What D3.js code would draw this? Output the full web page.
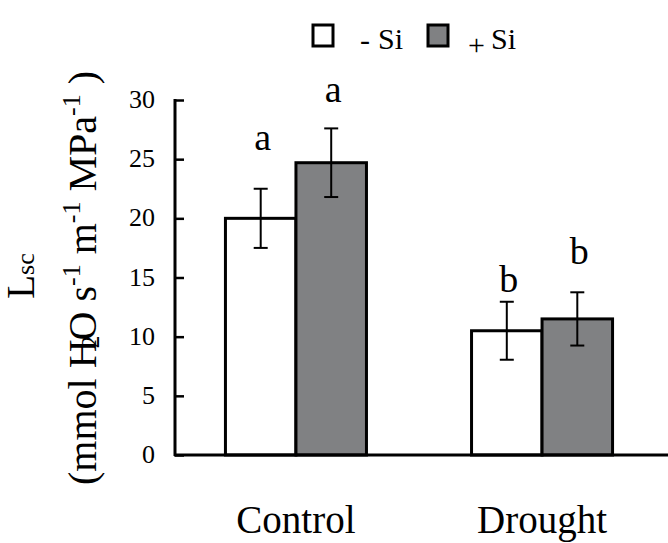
<!DOCTYPE html>
<html><head><meta charset="utf-8">
<script src="https://cdn.jsdelivr.net/npm/d3@7"></script>
</head><body style="margin:0">
<svg id="c" width="668" height="543"></svg>
<script>
const categories = ["Control", "Drought"];
const seriesNames = ["- Si", "+ Si"];
const minusSi = [20.0, 10.5];
const plusSi = [24.7, 11.5];
const minusSiErr = [2.5, 2.45];
const plusSiErr = [2.9, 2.25];
const minusSiLetters = ["a", "b"];
const plusSiLetters = ["a", "b"];
const minusSiLetterAt = [25.8, 13.8];
const plusSiLetterAt = [29.8, 16.1];
const yTicks = [0, 5, 10, 15, 20, 25, 30];

const FONT = "Liberation Serif";
const svg = d3.select("#c");
const y = d3.scaleLinear().domain([0, 30]).range([455, 100]);
const x = d3.scaleBand().domain(categories).range([175, 663]).paddingInner(0.427).paddingOuter(0.205);
const xs = d3.scaleBand().domain(seriesNames).range([0, x.bandwidth()]);
const fills = {"- Si": "#ffffff", "+ Si": "#808183"};

const data = [];
categories.forEach((c, i) => {
  data.push({c, s: "- Si", v: minusSi[i], e: minusSiErr[i], l: minusSiLetters[i], ly: minusSiLetterAt[i]});
  data.push({c, s: "+ Si", v: plusSi[i], e: plusSiErr[i], l: plusSiLetters[i], ly: plusSiLetterAt[i]});
});
const cx = d => x(d.c) + xs(d.s) + xs.bandwidth()/2;

const g = svg.append("g");
g.selectAll("rect.bar").data(data).join("rect")
  .attr("x", d => x(d.c) + xs(d.s))
  .attr("y", d => y(d.v))
  .attr("width", xs.bandwidth())
  .attr("height", d => y(0) - y(d.v))
  .attr("fill", d => fills[d.s])
  .attr("stroke", "#000").attr("stroke-width", 3);

const eb = g.selectAll("g.eb").data(data).join("g").attr("stroke", "#000").attr("stroke-width", 2);
eb.append("line")
  .attr("x1", cx).attr("x2", cx)
  .attr("y1", d => y(d.v + d.e)).attr("y2", d => y(d.v - d.e));
[1, -1].forEach(sgn => {
  eb.append("line")
    .attr("x1", d => cx(d) - 7).attr("x2", d => cx(d) + 7)
    .attr("y1", d => y(d.v + sgn*d.e)).attr("y2", d => y(d.v + sgn*d.e));
});

g.selectAll("text.let").data(data).join("text")
  .attr("x", d => cx(d) + 2)
  .attr("y", d => y(d.ly))
  .attr("text-anchor", "middle").attr("font-size", 38).attr("font-family", FONT)
  .text(d => d.l);

// Y axis
const ya = svg.append("g").attr("transform", "translate(175,0)")
  .call(d3.axisRight(y).tickValues(yTicks).tickSize(9).tickFormat(""));
ya.select(".domain").remove();
ya.selectAll(".tick line").attr("stroke", "#000").attr("stroke-width", 2.5);
svg.append("line").attr("x1", 175).attr("x2", 175).attr("y1", y(30) - 1).attr("y2", y(0) + 1)
  .attr("stroke", "#000").attr("stroke-width", 3);
svg.selectAll("text.yt").data(yTicks).join("text")
  .attr("x", 155).attr("y", d => y(d) + 8)
  .attr("text-anchor", "end").attr("font-size", 26).attr("font-family", FONT).text(d => d);

// X axis
svg.append("line").attr("x1", 174).attr("x2", 668).attr("y1", y(0)).attr("y2", y(0))
  .attr("stroke", "#000").attr("stroke-width", 3);
svg.selectAll("text.xl").data(categories).join("text")
  .attr("x", d => x(d) + x.bandwidth()/2).attr("y", 533)
  .attr("text-anchor", "middle").attr("font-size", 39).attr("font-family", FONT).text(d => d);

// Y label
const yl1 = svg.append("text").attr("transform", "translate(34,276) rotate(-90)")
  .attr("text-anchor", "middle").attr("font-size", 39).attr("font-family", FONT);
yl1.append("tspan").text("L");
yl1.append("tspan").attr("font-size", 26).text("sc");

const yl2 = svg.append("text").attr("transform", "translate(96,278) rotate(-90)")
  .attr("text-anchor", "middle").attr("font-size", 40).attr("font-family", FONT);
yl2.append("tspan").text("(mmol H");
yl2.append("tspan").attr("font-size", 26).attr("dx", -9).attr("dy", 3).text("2");
yl2.append("tspan").attr("dx", -5).attr("dy", -3).text("O s");
yl2.append("tspan").attr("font-size", 26).attr("dy", -16).text("-1");
yl2.append("tspan").attr("dy", 16).text(" m");
yl2.append("tspan").attr("font-size", 26).attr("dy", -16).text("-1");
yl2.append("tspan").attr("dy", 16).text(" MPa");
yl2.append("tspan").attr("font-size", 26).attr("dy", -16).text("-1");
yl2.append("tspan").attr("dy", 16).text(" )");

// Legend
const legBoxes = [{s: "- Si", x: 313}, {s: "+ Si", x: 428}];
legBoxes.forEach(L => {
  svg.append("rect").attr("x", L.x).attr("y", 25).attr("width", 20).attr("height", 21)
    .attr("fill", fills[L.s]).attr("stroke", "#000").attr("stroke-width", 3);
});
svg.append("text").attr("x", 360).attr("y", 50).attr("font-size", 30).attr("font-family", FONT).text("-");
svg.append("text").attr("x", 378).attr("y", 49).attr("font-size", 30).attr("font-family", FONT).text("Si");
svg.append("text").attr("x", 468).attr("y", 55).attr("font-size", 30).attr("font-family", FONT).text("+");
svg.append("text").attr("x", 491).attr("y", 49).attr("font-size", 30).attr("font-family", FONT).text("Si");
</script></body></html>
